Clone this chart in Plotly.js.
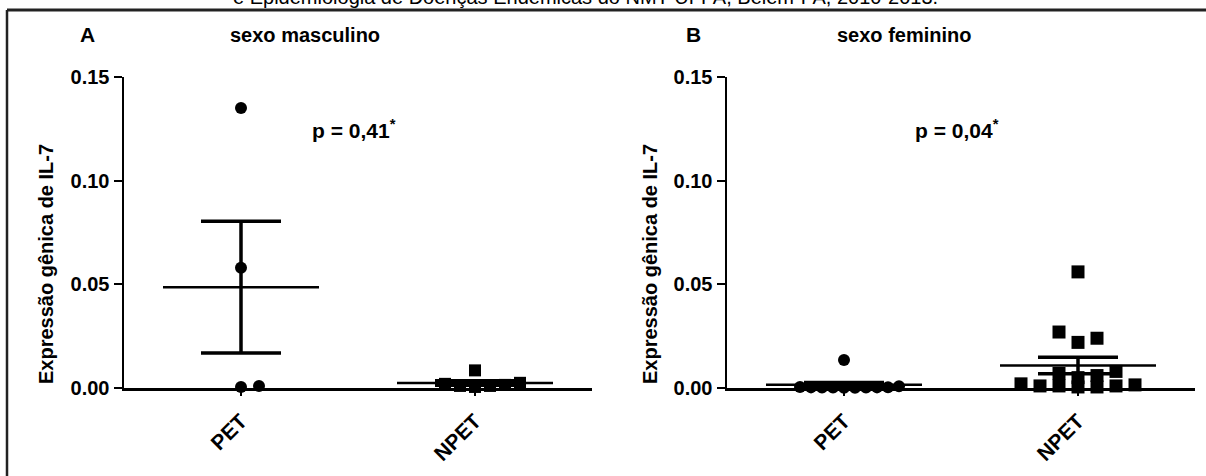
<!DOCTYPE html>
<html><head><meta charset="utf-8">
<script src="https://cdn.plot.ly/plotly-3.0.1.min.js"></script>
<style>html,body{margin:0;padding:0;background:#fff}</style>
</head><body><div id="chart" style="width:1206px;height:476px"></div>
<script>
// ---------------- data ----------------
const categories = ['PET', 'NPET'];
const panelLetters = ['A', 'B'];
const panelTitles = ['sexo masculino', 'sexo feminino'];
const pLabels = ['p = 0,41', 'p = 0,04'];
const yAxisTitle = 'Expressão gênica de IL-7';
const caption = 'e Epidemiologia de Doenças Endêmicas do NMT-UFPA, Belém-PA, 2010-2013.';
const yTickVals = [0, 0.05, 0.10, 0.15];

const malePET = [0.135, 0.058, 0.001, 0.0005];
const maleNPET = [0.0085, 0.0025, 0.002, 0.0015, 0.001, 0.001, 0.0005];
const femalePET = [0.0135, 0.0008, 0.0005, 0.0004, 0.0003, 0.0003, 0.0002, 0.0002, 0.0002, 0.0001, 0.0001];
const femaleNPET = [0.056, 0.027, 0.024, 0.022, 0.008, 0.007, 0.006, 0.005,
                    0.002, 0.0015, 0.001, 0.001, 0.001, 0.0005, 0.0005];

// ---------------- layout geometry ----------------
const W = 1206, H = 476;
const yTopPx = 77, yBotPx = 388;
const axAx0 = 124, axAx1 = 592, axBx0 = 727, axBx1 = 1195;
const yRange = [0, 0.15];
const xRange = [-0.5, 1.5];
const pxPerY = (yBotPx - yTopPx) / (yRange[1] - yRange[0]);
const pxPerX = (axAx1 - axAx0) / (xRange[1] - xRange[0]);

function mean(a) { return a.reduce((s, v) => s + v, 0) / a.length; }
function sem(a) {
  const m = mean(a);
  const v = a.reduce((s, x) => s + (x - m) * (x - m), 0) / (a.length - 1);
  return Math.sqrt(v) / Math.sqrt(a.length);
}
// simple binned beeswarm: rows by pixel height, alternate 0,+s,-s,+2s,...
function swarm(values, center, spacingPx, binPx) {
  const idx = values.map((v, i) => i).sort((a, b) => values[a] - values[b]);
  const rowCount = {};
  const xs = new Array(values.length);
  idx.forEach(i => {
    const row = Math.round(values[i] * pxPerY / binPx);
    const k = rowCount[row] || 0;
    rowCount[row] = k + 1;
    const step = Math.ceil(k / 2) * (k % 2 === 1 ? 1 : -1);
    xs[i] = center + step * spacingPx / pxPerX;
  });
  return xs;
}

const groups = [
  {vals: malePET, cat: 0, panel: 0, symbol: 'circle', size: 12, spacing: 18},
  {vals: maleNPET, cat: 1, panel: 0, symbol: 'square', size: 12, spacing: 15},
  {vals: femalePET, cat: 0, panel: 1, symbol: 'circle', size: 12, spacing: 11},
  {vals: femaleNPET, cat: 1, panel: 1, symbol: 'square', size: 13, spacing: 19},
];

const traces = [];
const meanHalf = 78 / pxPerX;
groups.forEach(g => {
  const xa = g.panel === 0 ? 'x' : 'x2';
  const ya = g.panel === 0 ? 'y' : 'y2';
  const m = mean(g.vals), s = sem(g.vals);
  traces.push({
    x: [g.cat - meanHalf, g.cat + meanHalf], y: [m, m], xaxis: xa, yaxis: ya,
    mode: 'lines', line: {color: '#000', width: 2.5}, hoverinfo: 'skip', showlegend: false, cliponaxis: false
  });
  traces.push({
    x: [g.cat], y: [m], xaxis: xa, yaxis: ya, mode: 'lines',
    error_y: {type: 'data', array: [s], visible: true, color: '#000', thickness: 3.5, width: 40},
    hoverinfo: 'skip', showlegend: false, cliponaxis: false
  });
});
groups.forEach(g => {
  traces.push({
    x: swarm(g.vals, g.cat, g.spacing, 13), y: g.vals,
    xaxis: g.panel === 0 ? 'x' : 'x2', yaxis: g.panel === 0 ? 'y' : 'y2',
    mode: 'markers', marker: {symbol: g.symbol, size: g.size, color: '#000'},
    showlegend: false, cliponaxis: false
  });
});

const FONT = 'Arial, "Liberation Sans", sans-serif';
const NARROW = '"Liberation Sans Narrow", "Arial Narrow", Arial, sans-serif';
function xAxis(d0, d1, anchor) {
  return {
    domain: [d0 / W, d1 / W], range: xRange, anchor: anchor,
    tickvals: [0, 1], ticktext: categories, tickangle: -45,
    ticks: 'outside', ticklen: 5, tickwidth: 2, tickcolor: '#000',
    ticklabelstandoff: 5,
    showline: true, linecolor: '#000', linewidth: 2.5,
    showgrid: false, zeroline: false,
    tickfont: {family: FONT, size: 21, color: '#000', weight: 'bold'}, fixedrange: true
  };
}
function yAxis(anchor) {
  return {
    domain: [1 - yBotPx / H, 1 - yTopPx / H], range: yRange, anchor: anchor,
    tickvals: yTickVals, tickformat: '.2f',
    ticks: 'outside', ticklen: 8, tickwidth: 2, tickcolor: '#000',
    showline: true, linecolor: '#000', linewidth: 2.5,
    showgrid: false, zeroline: false,
    tickfont: {family: FONT, size: 20, color: '#000', weight: 'bold'}, fixedrange: true
  };
}

const ann = [];
function txt(text, xpx, ypx, size, extra, fam) {
  return Object.assign({
    text: text, xref: 'paper', yref: 'paper', x: xpx / W, y: 1 - ypx / H,
    xanchor: 'center', yanchor: 'middle', showarrow: false,
    font: {family: fam || FONT, size: size, color: '#000', weight: 'bold'}
  }, extra || {});
}
ann.push(txt(caption, 585, -3, 20, {font: {family: FONT, size: 20, color: '#000'}}));
ann.push(txt(panelLetters[0], 87, 35, 21, null, NARROW));
ann.push(txt(panelLetters[1], 693, 35, 21, null, NARROW));
ann.push(txt(panelTitles[0], 305, 35, 20, null, NARROW));
ann.push(txt(panelTitles[1], 904, 35, 20, null, NARROW));
ann.push(txt(pLabels[0] + '<sup>*</sup>', 354, 129, 21));
ann.push(txt(pLabels[1] + '<sup>*</sup>', 957, 129, 21));
ann.push(txt(yAxisTitle, 46, 264, 20, {textangle: -90}));
ann.push(txt(yAxisTitle, 650, 264, 20, {textangle: -90}));

const layout = {
  width: W, height: H, margin: {l: 0, r: 0, t: 0, b: 0},
  paper_bgcolor: '#fff', plot_bgcolor: 'rgba(0,0,0,0)',
  font: {family: FONT, color: '#000'},
  xaxis: xAxis(axAx0, axAx1, 'y'), yaxis: yAxis('x'),
  xaxis2: xAxis(axBx0, axBx1, 'y2'), yaxis2: yAxis('x2'),
  annotations: ann,
  shapes: [
    {type: 'line', xref: 'paper', yref: 'paper', x0: 7 / W, x1: 1, y0: 1 - 10 / H, y1: 1 - 10 / H, line: {color: '#222', width: 3}},
    {type: 'line', xref: 'paper', yref: 'paper', x0: 7 / W, x1: 7 / W, y0: 0, y1: 1 - 10 / H, line: {color: '#222', width: 2.5}}
  ],
  showlegend: false, hovermode: false
};
Plotly.newPlot('chart', traces, layout, {displayModeBar: false, staticPlot: true});
</script>
</body></html>
